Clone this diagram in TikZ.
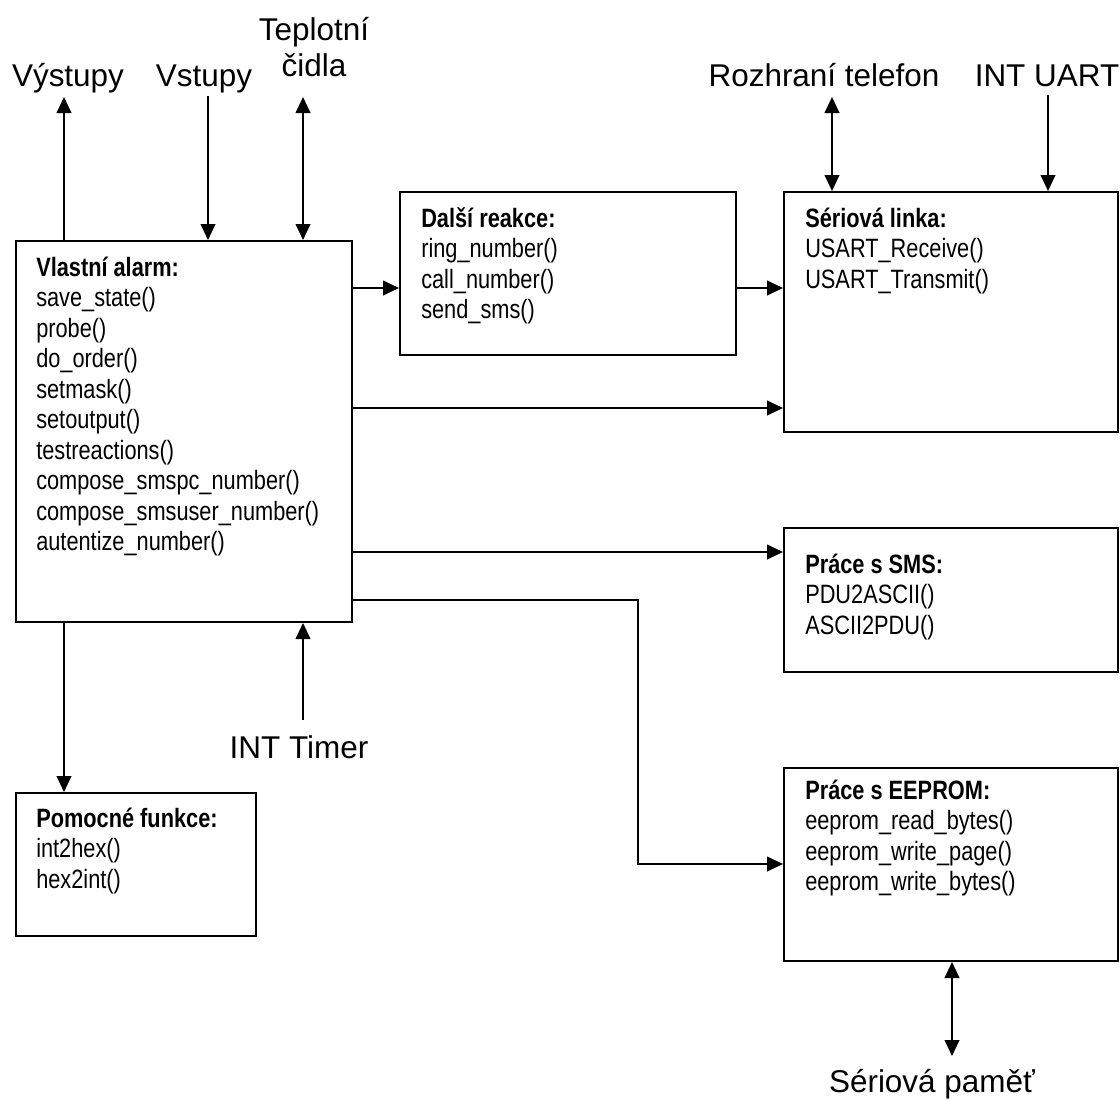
\documentclass[tikz,border=0pt]{standalone}
\usepackage{fontspec}
\setmainfont{Liberation Sans}
\newfontfamily\narrowf[FakeStretch=0.82]{Liberation Sans}
\usetikzlibrary{arrows.meta,fit}
\begin{document}
\begin{tikzpicture}[x=0.75pt,y=-0.75pt,
  box/.style={draw, line width=1.5pt, inner sep=0pt},
  btxt/.style={anchor=base west, align=left, inner sep=0pt, font=\narrowf\fontsize{19.9}{22.9}\selectfont},
  lbl/.style={anchor=base, inner sep=0pt, align=center, font=\fontsize{23.6}{27}\selectfont},
  arr/.style={line width=1.5pt, -{Triangle[length=12pt,width=11pt]}},
  darr/.style={line width=1.5pt, {Triangle[length=12pt,width=11pt]}-{Triangle[length=12pt,width=11pt]}}]
\useasboundingbox (0,0) rectangle (1120,1099);

% boxes
\node[box, fit={(16,241) (352,622)}] (alarm) {};
\node[box, fit={(400,192) (736,355)}] (dalsi) {};
\node[box, fit={(784,192) (1118,432)}] (serial) {};
\node[box, fit={(784,528) (1118,672)}] (sms) {};
\node[box, fit={(16,793) (256,936)}] (pomoc) {};
\node[box, fit={(784,768) (1118,961)}] (eeprom) {};

% box texts (anchored at the baseline of the last line)
\node[btxt] (alarmtxt) at (36,550.8) {\textbf{Vlastní alarm:}\\save\_state()\\probe()\\do\_order()\\setmask()\\setoutput()\\testreactions()\\compose\_smspc\_number()\\compose\_smsuser\_number()\\autentize\_number()};
\node[btxt] (dalsitxt) at (421,318.6) {\textbf{Další reakce:}\\ring\_number()\\call\_number()\\send\_sms()};
\node[btxt] (serialtxt) at (805,288.1) {\textbf{Sériová linka:}\\USART\_Receive()\\USART\_Transmit()};
\node[btxt] (smstxt) at (805,634.1) {\textbf{Práce s SMS:}\\PDU2ASCII()\\ASCII2PDU()};
\node[btxt] (pomoctxt) at (36,888.1) {\textbf{Pomocné funkce:}\\int2hex()\\hex2int()};
\node[btxt] (eepromtxt) at (805,890.6) {\textbf{Práce s EEPROM:}\\eeprom\_read\_bytes()\\eeprom\_write\_page()\\eeprom\_write\_bytes()};

% outer labels
\node[lbl] (vyst) at (68,87) {Výstupy};
\node[lbl] (vst) at (204,87) {Vstupy};
\node[lbl] (tep) at (314,76) {Teplotní\\čidla};
\node[lbl] (roz) at (824,86) {Rozhraní telefon};
\node[lbl] (uart) at (1047,86) {INT UART};
\node[lbl] (timer) at (299,758) {INT Timer};
\node[lbl] (mem) at (932,1092) {Sériová paměť};

% helper coordinates
\coordinate (r1) at (0,288);
\coordinate (r2) at (0,408);
\coordinate (r3) at (0,552);
\coordinate (r4) at (0,600);
\coordinate (r5) at (0,864);
\coordinate (c64) at (64,0);
\coordinate (c208) at (208,0);
\coordinate (c303) at (303,0);
\coordinate (c638) at (638,0);
\coordinate (c832) at (832,0);
\coordinate (c1048) at (1048,0);
\coordinate (c952) at (952,0);
\coordinate (vystend) at (64,97);
\coordinate (vstend) at (208,96);
\coordinate (tepend) at (303,97);
\coordinate (rozend) at (832,97);
\coordinate (uartend) at (1048,95);
\coordinate (timerend) at (303,720);
\coordinate (memend) at (952,1056);

% connectors
\draw[arr] (alarm.north-|c64) -- (vystend);
\draw[arr] (vstend) -- (alarm.north-|c208);
\draw[darr] (tepend) -- (alarm.north-|c303);
\draw[darr] (rozend) -- (serial.north-|c832);
\draw[arr] (uartend) -- (serial.north-|c1048);
\draw[arr] (alarm.east|-r1) -- (dalsi.west|-r1);
\draw[arr] (dalsi.east|-r1) -- (serial.west|-r1);
\draw[arr] (alarm.east|-r2) -- (serial.west|-r2);
\draw[arr] (alarm.east|-r3) -- (sms.west|-r3);
\draw[arr] (alarm.east|-r4) -| (c638|-r5) -- (eeprom.west|-r5);
\draw[arr] (alarm.south-|c64) -- (pomoc.north-|c64);
\draw[arr] (timerend) -- (alarm.south-|c303);
\draw[darr] (eeprom.south-|c952) -- (memend);
\end{tikzpicture}
\end{document}
